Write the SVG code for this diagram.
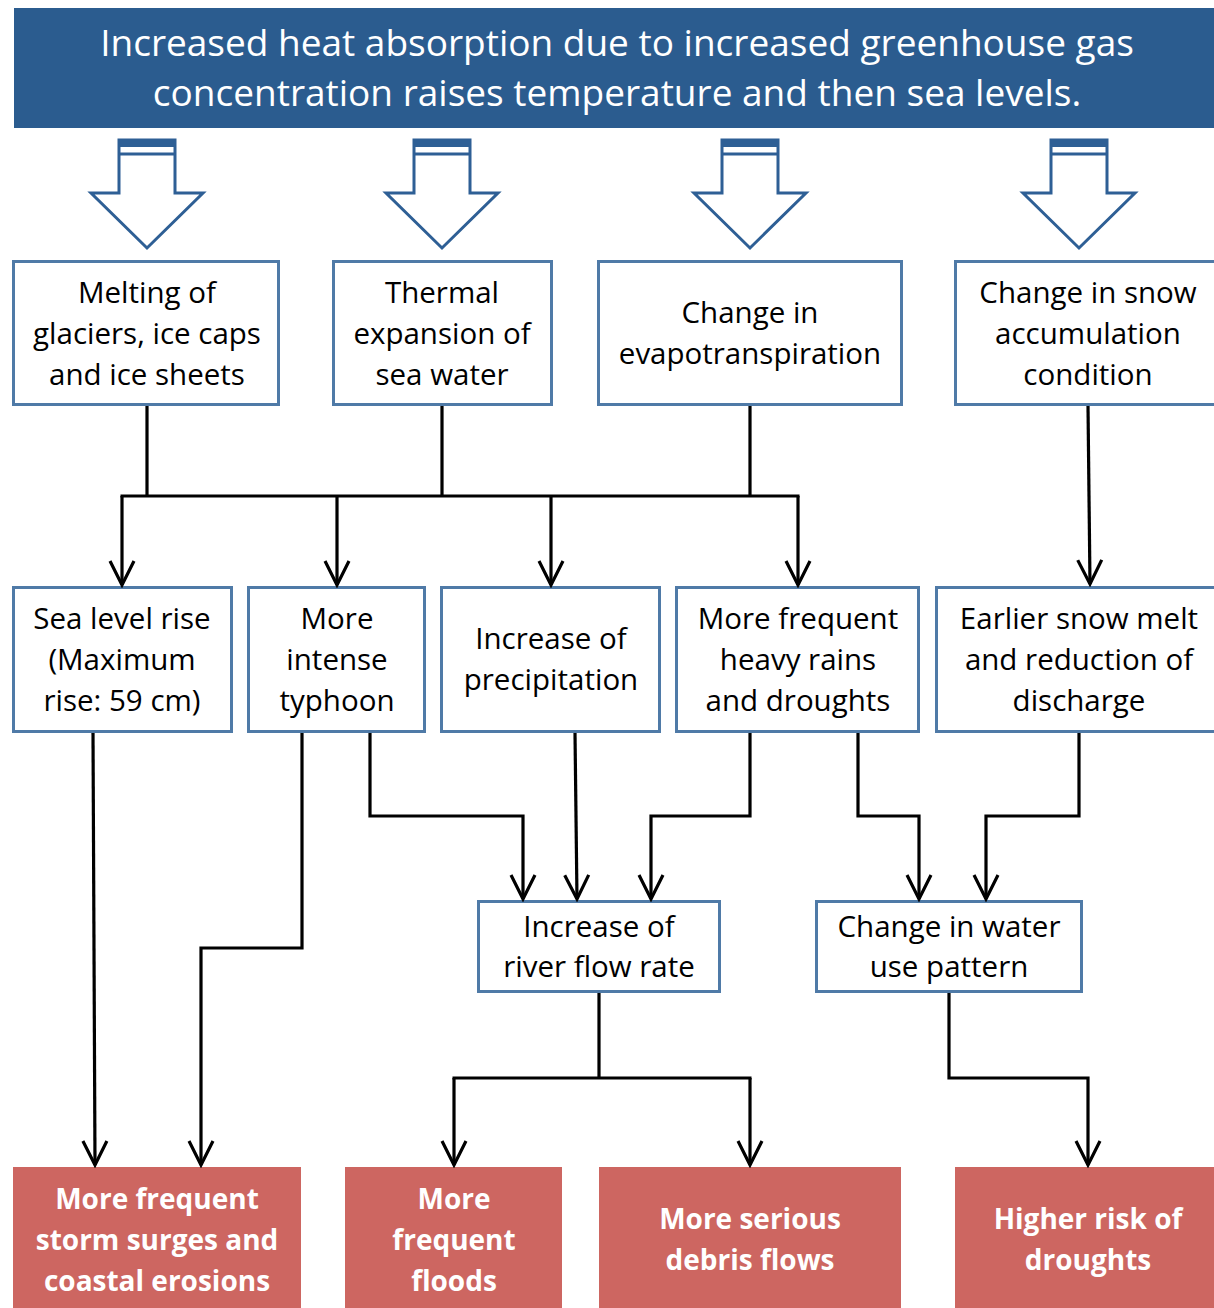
<svg xmlns="http://www.w3.org/2000/svg" width="1214" height="1308" viewBox="0 0 1214 1308">
<defs>
<style>
.t{font-family:"Open Sans","Liberation Sans",sans-serif;font-size:29.5px;fill:#000;text-anchor:middle}
.w{font-family:"Open Sans","Liberation Sans",sans-serif;font-size:28px;font-weight:bold;fill:#fff;text-anchor:middle}
.h{font-family:"Open Sans","Liberation Sans",sans-serif;font-size:37px;fill:#fff;text-anchor:middle}
.box{fill:#fff;stroke:#4f7aa7;stroke-width:3}
.red{fill:#cd6661}
.blk{fill:#fff;stroke:#2e5f95;stroke-width:3;stroke-linejoin:miter}
.con{fill:none;stroke:#000;stroke-width:3.2;marker-end:url(#ah)}
.ln{fill:none;stroke:#000;stroke-width:3.2}
</style>
<marker id="ah" viewBox="-27 -14 30 28" refX="0" refY="0" markerWidth="30" markerHeight="28" markerUnits="userSpaceOnUse" orient="auto">
<path d="M-24,-12 L0,0 L-24,12" fill="none" stroke="#000" stroke-width="3.2"/>
</marker>
<g id="blockarrow">
<path class="blk" d="M-28,-108 L28,-108 L28,-55 L56,-55 L0,0 L-56,-55 L-28,-55 Z"/>
<rect x="-28" y="-109" width="56" height="8" fill="#2e5f95"/>
<line x1="-28" y1="-94" x2="28" y2="-94" stroke="#2e5f95" stroke-width="3"/>
</g>
</defs>

<g id="header">
<rect x="14" y="8" width="1200" height="120" fill="#2b5c8f"/>
<text class="h" x="617" y="56">Increased heat absorption due to increased greenhouse gas</text>
<text class="h" x="617" y="106">concentration raises temperature and then sea levels.</text>
</g>

<g id="block-arrows">
<use href="#blockarrow" x="147" y="248"/>
<use href="#blockarrow" x="442" y="248"/>
<use href="#blockarrow" x="750" y="248"/>
<use href="#blockarrow" x="1079" y="248"/>
</g>

<g id="n-melting">
<rect class="box" x="13.5" y="261.5" width="265" height="143"/>
<text class="t" x="147" y="303">Melting of</text>
<text class="t" x="147" y="344">glaciers, ice caps</text>
<text class="t" x="147" y="385">and ice sheets</text>
</g>
<g id="n-thermal">
<rect class="box" x="333.5" y="261.5" width="218" height="143"/>
<text class="t" x="442" y="303">Thermal</text>
<text class="t" x="442" y="344">expansion of</text>
<text class="t" x="442" y="385">sea water</text>
</g>
<g id="n-evapo">
<rect class="box" x="598.5" y="261.5" width="303" height="143"/>
<text class="t" x="750" y="323">Change in</text>
<text class="t" x="750" y="364">evapotranspiration</text>
</g>
<g id="n-snow">
<rect class="box" x="955.5" y="261.5" width="262" height="143"/>
<text class="t" x="1088" y="303">Change in snow</text>
<text class="t" x="1088" y="344">accumulation</text>
<text class="t" x="1088" y="385">condition</text>
</g>

<g id="n-sealevel">
<rect class="box" x="13.5" y="587.5" width="218" height="144"/>
<text class="t" x="122" y="629">Sea level rise</text>
<text class="t" x="122" y="670">(Maximum</text>
<text class="t" x="122" y="711">rise: 59 cm)</text>
</g>
<g id="n-typhoon">
<rect class="box" x="248.5" y="587.5" width="176" height="144"/>
<text class="t" x="337" y="629">More</text>
<text class="t" x="337" y="670">intense</text>
<text class="t" x="337" y="711">typhoon</text>
</g>
<g id="n-precip">
<rect class="box" x="441.5" y="587.5" width="218" height="144"/>
<text class="t" x="551" y="649">Increase of</text>
<text class="t" x="551" y="690">precipitation</text>
</g>
<g id="n-heavy">
<rect class="box" x="676.5" y="587.5" width="242" height="144"/>
<text class="t" x="798" y="629">More frequent</text>
<text class="t" x="798" y="670">heavy rains</text>
<text class="t" x="798" y="711">and droughts</text>
</g>
<g id="n-earlier">
<rect class="box" x="936.5" y="587.5" width="281" height="144"/>
<text class="t" x="1079" y="629">Earlier snow melt</text>
<text class="t" x="1079" y="670">and reduction of</text>
<text class="t" x="1079" y="711">discharge</text>
</g>

<g id="n-river">
<rect class="box" x="478.5" y="901.5" width="241" height="90"/>
<text class="t" x="599" y="937">Increase of</text>
<text class="t" x="599" y="977">river flow rate</text>
</g>
<g id="n-wateruse">
<rect class="box" x="816.5" y="901.5" width="265" height="90"/>
<text class="t" x="949" y="937">Change in water</text>
<text class="t" x="949" y="977">use pattern</text>
</g>

<g id="n-storm">
<rect class="red" x="13" y="1167" width="288" height="141"/>
<text class="w" x="157" y="1209">More frequent</text>
<text class="w" x="157" y="1250">storm surges and</text>
<text class="w" x="157" y="1291">coastal erosions</text>
</g>
<g id="n-floods">
<rect class="red" x="345" y="1167" width="217" height="141"/>
<text class="w" x="454" y="1209">More</text>
<text class="w" x="454" y="1250">frequent</text>
<text class="w" x="454" y="1291">floods</text>
</g>
<g id="n-debris">
<rect class="red" x="599" y="1167" width="302" height="141"/>
<text class="w" x="750" y="1229">More serious</text>
<text class="w" x="750" y="1270">debris flows</text>
</g>
<g id="n-drought">
<rect class="red" x="955" y="1167" width="259" height="141"/>
<text class="w" x="1088" y="1229">Higher risk of</text>
<text class="w" x="1088" y="1270">droughts</text>
</g>

<g id="connectors">
<path class="ln" d="M147,406 V496 M442,406 V496 M750,406 V496 M120.5,496 H799.5"/>
<path class="con" d="M122,496 V585"/>
<path class="con" d="M337,496 V585"/>
<path class="con" d="M551,496 V585"/>
<path class="con" d="M798,496 V585"/>
<path class="con" d="M1088,406 L1090,584"/>
<path class="con" d="M93,733 L95,1165"/>
<path class="con" d="M302,733 V948 H201 V1165"/>
<path class="con" d="M370,733 V816 H523 V899"/>
<path class="con" d="M575,733 L577,899"/>
<path class="con" d="M750,733 V816 H651 V899"/>
<path class="con" d="M858,733 V816 H919 V899"/>
<path class="con" d="M1079,733 V816 H986 V899"/>
<path class="ln" d="M599,993 V1078 M452.5,1078 H751.5"/>
<path class="con" d="M454,1078 V1165"/>
<path class="con" d="M750,1078 V1165"/>
<path class="con" d="M949,993 V1078 H1088 V1165"/>
</g>
</svg>
